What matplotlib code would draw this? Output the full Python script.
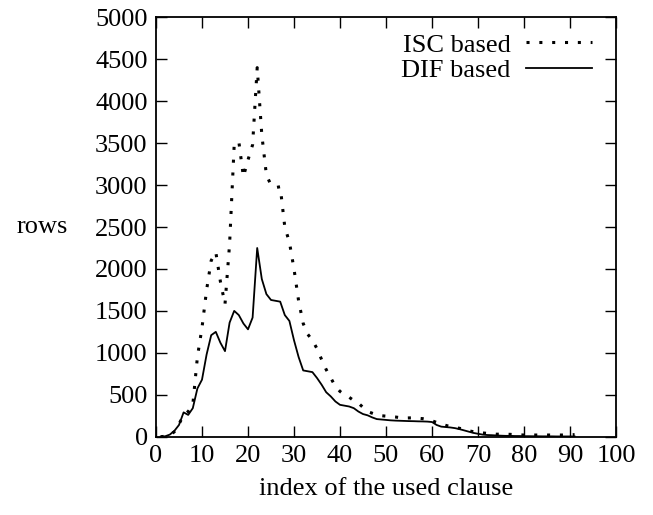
import matplotlib
matplotlib.use("Agg")
from matplotlib import pyplot as plt

# 数据：估计值
clause_idx = list(range(1, 92))

isc_rows = [0, 5, 15, 60, 150, 260, 300, 380, 950, 1300,
            1750, 2100, 2200, 1850, 1580, 2300, 3480, 3520, 3100, 3300,
            3480, 4400, 3600, 3120, 3000, 2970, 2980, 2500, 2320, 2000,
            1620, 1350, 1220, 1150, 1050, 920, 800, 700, 600, 540,
            500, 470, 430, 400, 350, 300, 280, 260, 250, 245,
            240, 235, 228, 222, 224, 225, 220, 215, 205, 190,
            170, 150, 135, 120, 110, 100, 85, 70, 60, 50,
            45, 40, 35, 30, 30, 30, 28, 25, 22, 20,
            20, 20, 20, 20, 20, 20, 20, 20, 20, 22, 25]

dif_rows = [0, 5, 25, 70, 140, 290, 260, 340, 575, 680,
            980, 1210, 1250, 1120, 1020, 1360, 1500, 1450, 1350, 1280,
            1420, 2250, 1880, 1700, 1630, 1620, 1610, 1450, 1380, 1150,
            950, 790, 780, 770, 700, 620, 530, 480, 420, 380,
            370, 360, 340, 300, 270, 255, 230, 210, 205, 200,
            195, 192, 190, 188, 186, 185, 183, 182, 180, 175,
            140, 120, 115, 110, 102, 90, 75, 60, 45, 35,
            25, 20, 18, 15, 12, 10, 10, 8, 8, 6,
            6, 5, 5, 4, 4, 4, 3, 3, 3, 3, 3]

x_ticks = list(range(0, 101, 10))
y_ticks = list(range(0, 5001, 500))

plt.rcParams['font.family'] = ['Liberation Serif', 'DejaVu Serif']
plt.rcParams['font.size'] = 19

fig = plt.figure(figsize=(6.53, 5.15), dpi=100)
ax = fig.add_axes([156 / 653, (515 - 436.7) / 515, 460 / 653, 419.4 / 515])

ax.plot(clause_idx, isc_rows, color="black", linewidth=2.2,
        linestyle=(0, (1, 3.2)), dash_capstyle="butt", label="ISC based")
ax.plot(clause_idx, dif_rows, color="black", linewidth=1.3, label="DIF based")

ax.set_xlim(0, 100)
ax.set_ylim(0, 5000)
ax.set_xticks(x_ticks)
ax.set_yticks(y_ticks)
ax.tick_params(direction="in", length=8, width=1, top=True, right=True, pad=6)
for sp in ax.spines.values():
    sp.set_linewidth(1.3)

ax.set_xlabel("index of the used clause", labelpad=8)
ax.set_ylabel("rows", rotation=0, labelpad=38, va="center")

ax.legend(loc="upper right", bbox_to_anchor=(0.983, 1.0), frameon=False,
          markerfirst=False, handlelength=2.5, labelspacing=0.08,
          handletextpad=0.6, borderaxespad=0.2)

plt.savefig("out.png", dpi=100)
